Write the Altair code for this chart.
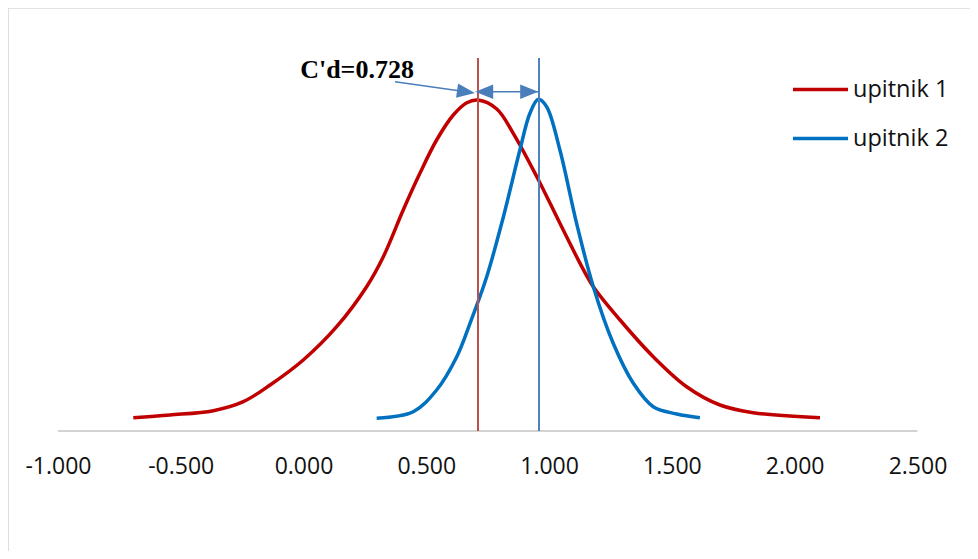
import altair as alt
import pandas as pd

W, H = 962, 543

# tick labels on x axis
x_ticks = [-1.0, -0.5, 0.0, 0.5, 1.0, 1.5, 2.0, 2.5]

series_names = ["upitnik 1", "upitnik 2"]

# upitnik 1 (red curve)
red_x = [-0.693, -0.544, -0.367, -0.245, -0.136, -0.001, 0.135, 0.257, 0.325, 0.406,
         0.474, 0.542, 0.610, 0.665, 0.710, 0.787, 0.854, 0.950, 1.044,
         1.126, 1.180, 1.289, 1.424, 1.560, 1.696, 1.831, 2.103]
red_y = [0.133, 0.160, 0.203, 0.293, 0.460, 0.710, 1.043, 1.443, 1.743, 2.210,
         2.577, 2.910, 3.160, 3.283, 3.310, 3.220, 2.977, 2.543, 2.077,
         1.677, 1.443, 1.110, 0.743, 0.443, 0.260, 0.183, 0.133]

# upitnik 2 (blue curve)
blue_x = [0.298, 0.447, 0.542, 0.624, 0.678, 0.746, 0.814, 0.881, 0.922, 0.956,
          0.990, 1.044, 1.112, 1.180, 1.261, 1.343, 1.424, 1.520, 1.614]
blue_y = [0.127, 0.193, 0.410, 0.743, 1.077, 1.543, 2.143, 2.810, 3.177, 3.317,
          3.243, 2.810, 2.077, 1.443, 0.877, 0.477, 0.243, 0.170, 0.133]

# vertical marker lines (peak positions) and their height
red_mark_x = [0.7105]
blue_mark_x = [0.9589]
mark_top = [3.73]

# annotation
label_text = ["C'd=0.728"]
label_x = [0.218]
label_y = [3.53]

# arrows: diagonal pointer and double-headed span
arrow_x1 = [0.3726, 0.7105]
arrow_y1 = [3.493, 3.393]
arrow_x2 = [0.6616, 0.9589]
arrow_y2 = [3.392, 3.393]
head_diag = ([0.6616], [3.392])
head_left = ([0.7358], [3.393])
head_right = ([0.9190], [3.393])

# baseline extent
base_x = [-1.0]
base_x2 = [2.5]

curves = pd.DataFrame({
    "x": red_x + blue_x,
    "y": red_y + blue_y,
    "series": [series_names[0]] * len(red_x) + [series_names[1]] * len(blue_x),
})

FONT = "Open Sans"
ARROW = "#4A7EBB"

xs = alt.Scale(domain=[-1.2032, 2.7138], nice=False, zero=False)
ys = alt.Scale(domain=[-1.20, 4.23], nice=False, zero=False)
xa = alt.Axis(values=x_ticks, format=".3f", labelExpr="replace(datum.label, '\u2212', '-')",
              domain=False, ticks=False, grid=False,
              labelFontSize=23, labelFont=FONT, labelColor="#111111", labelPadding=35,
              labelBaseline="middle", labelFlush=False, labelOverlap=False, offset=-120, title=None)


def X(f):
    return alt.X(f, scale=xs, axis=xa)


def Y(f):
    return alt.Y(f, scale=ys, axis=None)


one = pd.DataFrame({"a": [0]})
border_top = alt.Chart(one).mark_rule(color="#D9D9D9", strokeWidth=1.7).encode(
    x=alt.value(0), x2=alt.value(W), y=alt.value(0))
border_left = alt.Chart(one).mark_rule(color="#D9D9D9", strokeWidth=1.7).encode(
    x=alt.value(0), y=alt.value(0), y2=alt.value(H))

baseline = alt.Chart(pd.DataFrame({"x": base_x, "xe": base_x2, "y": [0.0]})).mark_rule(
    color="#C4C4C4", strokeWidth=1.5).encode(x=X("x:Q"), x2="xe:Q", y=Y("y:Q"))

lines = alt.Chart(curves).mark_line(strokeWidth=3.5, interpolate="catmull-rom").encode(
    x=X("x:Q"),
    y=Y("y:Q"),
    color=alt.Color("series:N", scale=alt.Scale(domain=series_names, range=["#C00000", "#0070C0"]),
                    legend=alt.Legend(title=None, orient="none", legendX=783, legendY=52,
                                      symbolType="stroke", symbolSize=3025, symbolStrokeWidth=3.5,
                                      labelFontSize=23.5, labelFont=FONT, labelColor="#111111",
                                      labelOffset=3, rowPadding=8, padding=0)),
)

red_mark = alt.Chart(pd.DataFrame({"x": red_mark_x, "y": [0.0], "ye": mark_top})).mark_rule(
    color="#C0504D", strokeWidth=2).encode(x=X("x:Q"), y=Y("y:Q"), y2="ye:Q")
blue_mark = alt.Chart(pd.DataFrame({"x": blue_mark_x, "y": [0.0], "ye": mark_top})).mark_rule(
    color="#4F81BD", strokeWidth=2).encode(x=X("x:Q"), y=Y("y:Q"), y2="ye:Q")

arrows = alt.Chart(pd.DataFrame({"x": arrow_x1, "y": arrow_y1, "xe": arrow_x2, "ye": arrow_y2})).mark_rule(
    color=ARROW, strokeWidth=1.6).encode(x=X("x:Q"), y=Y("y:Q"), x2="xe:Q", y2="ye:Q")


def head(pos, ang):
    return alt.Chart(pd.DataFrame({"x": pos[0], "y": pos[1]})).mark_point(
        shape="M-1,-0.8L1,0L-1,0.8Z", filled=True, size=324, color=ARROW, opacity=1,
        angle=ang).encode(x=X("x:Q"), y=Y("y:Q"))


heads = [head(head_diag, 8), head(head_left, 180), head(head_right, 0)]

label = alt.Chart(pd.DataFrame({"x": label_x, "y": label_y, "t": label_text})).mark_text(
    font="Liberation Serif", fontWeight="bold", fontSize=26, align="center", baseline="alphabetic",
    color="#000000").encode(x=X("x:Q"), y=Y("y:Q"), text="t:N")

chart = alt.layer(lines, border_top, border_left, baseline, red_mark, blue_mark, arrows, *heads, label).properties(
    width=W, height=H, padding=0, autosize=alt.AutoSizeParams(type="none"),
    background="white",
).configure_view(stroke=None)

chart.save("out.html", embed_options={"renderer": "svg", "actions": False})
